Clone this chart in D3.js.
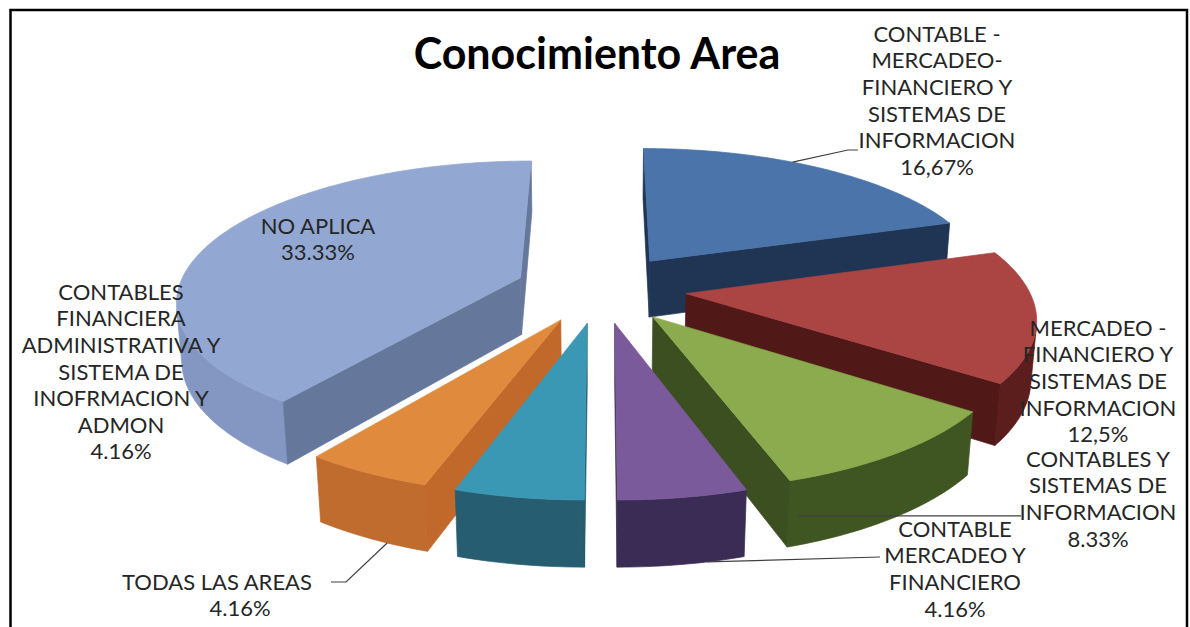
<!DOCTYPE html>
<html><head><meta charset="utf-8">
<script src="https://cdn.jsdelivr.net/npm/d3@7"></script>
<style>
body{margin:0;background:#fff}
svg{display:block}
text{font-family:Lato,"Open Sans",sans-serif}
</style>
</head><body>
<svg id="chart" width="1190" height="627"></svg>
<script>
// ---------- data ----------
const chartTitle = "Conocimiento Area";
const categories = [
  ["CONTABLE -","MERCADEO-","FINANCIERO Y","SISTEMAS DE","INFORMACION"],
  ["MERCADEO -","FINANCIERO Y","SISTEMAS DE","INFORMACION"],
  ["CONTABLES  Y","SISTEMAS DE","INFORMACION"],
  ["CONTABLE","MERCADEO Y","FINANCIERO"],
  ["CONTABLES","FINANCIERA","ADMINISTRATIVA Y","SISTEMA DE","INOFRMACION Y","ADMON"],
  ["TODAS LAS AREAS"],
  ["NO APLICA"]
];
const values = [16.67, 12.5, 8.33, 4.16, 4.16, 4.16, 33.33];
const valueLabels = ["16,67%","12,5%","8.33%","4.16%","4.16%","4.16%","33.33%"];

// ---------- styles ----------
const topColors  = ["#4a74aa","#aa4543","#8bab4e","#7a5a9a","#3b98b5","#e08a3e","#92a8d2"];
const sideColors = ["#24406a","#5c1d1d","#3f5522","#3b2c55","#275d70","#c06c2e","#8497c2"];
const cutColors  = ["#1f3553","#511818","#3b4f20","#3a2c52","#24596b","#c0692b","#65779b"];

// ---------- layout ----------
const W = 1190, H = 627;
const cam = {cx: 601, cy: 317, theta: 24.5*Math.PI/180, D: 6.0, F: 2040};
const thick = 0.185, explode = 0.25;
const lineH = 26.6;
const labelLayout = [
  {x: 937, y: 34,  leader: {f: 0.42, h: 1,  pts: [[848,150],[858,150]]}},
  {x: 1098, y: 328},
  {x: 1098, y: 459, leader: {f: 0.96, h: -0.1, toX: 1021}},
  {x: 955, y: 529, leader: {f: 0.3, h: -1, pts: [[880,557]]}},
  {x: 121, y: 292},
  {x: 217, y: 582, valueX: 240, leader: {f: 0.35, h: -1, pts: [[346,582],[331,582]]}},
  {x: 318, y: 226}
];

const svg = d3.select("#chart");
svg.append("rect").attr("width", W).attr("height", H).attr("fill", "#fff");

const s = Math.sin(cam.theta), c = Math.cos(cam.theta);
const camPos = {x: 0, h: cam.D*s, z: cam.D*c};
function project(p){
  const up = p.h*c - p.z*s;
  const depth = cam.D - p.z*c - p.h*s;
  return [cam.cx + cam.F*p.x/depth, cam.cy - cam.F*up/depth];
}
function depthOf(p){ return cam.D - p.z*c - p.h*s; }
function visible(n, p){
  return n.x*(camPos.x-p.x) + n.h*(camPos.h-p.h) + n.z*(camPos.z-p.z) > 0;
}

const pie = d3.pie().sort(null).value(d => d.v).startAngle(0).endAngle(2*Math.PI);
const slices = pie(values.map((v,i) => ({v, i})));
const line = d3.line();

const geo = slices.map(sl => {
  const i = sl.data.i;
  const a0 = sl.startAngle, a1 = sl.endAngle, m = (a0+a1)/2;
  const ox = explode*Math.sin(m), oz = -explode*Math.cos(m);
  const ht = thick/2, hb = -thick/2;
  const pt = (a, r, h) => ({x: ox + r*Math.sin(a), z: oz - r*Math.cos(a), h});
  const n = Math.max(4, Math.ceil((a1-a0)/(Math.PI/180)));
  const angs = d3.range(n+1).map(k => a0 + (a1-a0)*k/n);
  const faces = [];
  let run = null;
  const runs = [];
  for (let k = 0; k < n; k++){
    const am = (angs[k]+angs[k+1])/2;
    const nrm = {x: Math.sin(am), h: 0, z: -Math.cos(am)};
    const vis = visible(nrm, pt(am, 1, 0));
    if (vis){ if (!run){ run = [k, k+1]; runs.push(run);} else run[1] = k+1; }
    else run = null;
  }
  runs.forEach(([k0,k1]) => {
    const top = d3.range(k0, k1+1).map(k => project(pt(angs[k],1,ht)));
    const bot = d3.range(k0, k1+1).map(k => project(pt(angs[k],1,hb))).reverse();
    faces.push({pts: top.concat(bot), fill: sideColors[i]});
  });
  const cut = (a, sign) => {
    const nrm = {x: sign*Math.cos(a), h: 0, z: sign*Math.sin(a)};
    const mid = pt(a, 0.5, 0);
    if (visible(nrm, mid)){
      faces.push({pts: [pt(a,0,ht), pt(a,1,ht), pt(a,1,hb), pt(a,0,hb)].map(project), fill: cutColors[i]});
    }
  };
  cut(a0, -1); cut(a1, 1);
  faces.push({pts: [project(pt(0,0,ht))].concat(angs.map(a => project(pt(a,1,ht)))), fill: topColors[i]});
  const cen = pt(m, 0.55, 0);
  return {i, faces, depth: depthOf(cen), pt, a0, a1, ht, hb};
});

const gPie = svg.append("g");
geo.slice().sort((a,b) => b.depth - a.depth).forEach(g => {
  const gs = gPie.append("g").attr("class","slice");
  gs.selectAll("path").data(g.faces).join("path")
    .attr("d", f => line(f.pts) + "Z")
    .attr("fill", f => f.fill)
    .attr("stroke", f => f.fill)
    .attr("stroke-width", 0.7)
    .attr("stroke-linejoin", "round");
});

// title
svg.append("text").attr("x", 597).attr("y", 54).attr("dy", "0.35em")
  .attr("text-anchor", "middle").attr("font-size", 43).attr("font-weight", 700)
  .attr("fill", "#000").text(chartTitle);

// labels + leaders
const gLab = svg.append("g");
geo.forEach(g => {
  const L = labelLayout[g.i];
  const lines = categories[g.i];
  const t = gLab.append("text").attr("text-anchor","middle").attr("font-size", 22).attr("fill","#262626");
  lines.forEach((ln, k) => {
    t.append("tspan").attr("x", L.x).attr("y", L.y + k*lineH).attr("dy","0.35em").text(ln);
  });
  t.append("tspan").attr("x", L.valueX || L.x).attr("y", L.y + lines.length*lineH).attr("dy","0.35em").text(valueLabels[g.i]);
  if (L.leader){
    const a = g.a0 + (g.a1-g.a0)*L.leader.f;
    const h = L.leader.h * g.ht;
    const p0 = project(g.pt(a, 1, h));
    const pts = L.leader.toX ? [[L.leader.toX, p0[1]]] : L.leader.pts;
    gLab.append("path").attr("d", line([p0].concat(pts)))
      .attr("fill","none").attr("stroke","#404040").attr("stroke-width",1.2);
  }
});

// frame (left, top, right; open at the bottom edge)
svg.append("path").attr("d", line([[10.5, H+5],[10.5, 10],[1187, 10],[1187, H+5]]))
  .attr("fill","none").attr("stroke","#000").attr("stroke-width", 2.5);
</script>
</body></html>
